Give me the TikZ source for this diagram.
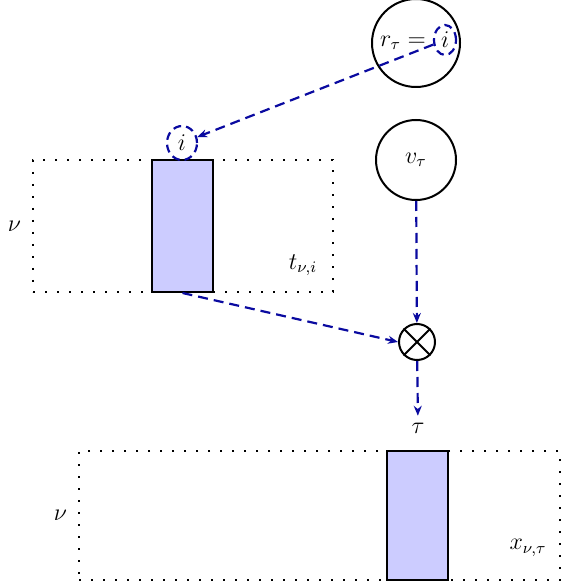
\documentclass[tikz,border=0pt]{standalone}
\usepackage{amsmath,amssymb}
\usetikzlibrary{arrows.meta,positioning,shapes.geometric}
\definecolor{LinkBlue}{HTML}{0A0AA0}
\definecolor{SliceFill}{HTML}{CCCCFF}

\begin{document}
\begin{tikzpicture}[
    x=0.5pt,y=-0.5pt,font=\large,
    frame/.style={draw,dash pattern=on 0.9pt off 5.1pt,line width=0.9pt,inner sep=0pt},
    slice/.style={draw,line width=1pt,fill=SliceFill,minimum width=30.5pt,inner sep=0pt},
    var/.style={circle,draw,line width=1pt,inner sep=0pt},
    tag/.style={ellipse,draw=LinkBlue,dash pattern=on 4pt off 2.5pt,line width=1.1pt,inner sep=0pt},
    mult/.style={circle,draw,line width=1pt,minimum size=18pt,inner sep=0pt},
    link/.style={-{Stealth[length=5pt,width=4pt]},dash pattern=on 5pt off 3pt,line width=1.1pt,LinkBlue}
  ]
    \useasboundingbox (0,0) rectangle (562,587);

    % top tensor t
    \node[frame,minimum width=150pt,minimum height=66pt] (tbox) at (183,226) {};
    \node[slice,minimum height=66pt] (tslice) at (182.5,226) {};
    \node[left=2pt of tbox] (tnu) {$\nu$};
    \node (tname) at (303,265) {$t_{\nu,i}$};
    \node[tag,minimum width=15pt,minimum height=17pt] (ti) at (182,143) {$i$};

    % index r and vector v
    \node[var,minimum size=44pt] (rt) at (416,43) {};
    \node (rlab) at (403,43) {$r_\tau =$};
    \node[tag,minimum width=11pt,minimum height=15pt] (ri) at (445,40) {$i$};
    \node[var,minimum size=40pt] (vt) at (416,160) {$v_\tau$};

    % product
    \node[mult] (prod) at (417,342) {};
    \draw[line width=1pt] (prod.45) -- (prod.225);
    \draw[line width=1pt] (prod.135) -- (prod.-45);

    % bottom tensor x
    \node[frame,minimum width=240.5pt,minimum height=64.5pt] (xbox) at (319.5,515.5) {};
    \node[slice,minimum height=64.5pt] (xslice) at (417,515.5) {};
    \node[left=2pt of xbox] (xnu) {$\nu$};
    \node (xname) at (528,548) {$x_{\nu,\tau}$};
    \node (tau) at (418,428) {$\tau$};

    % arrows
    \draw[link] (ri) -- (ti);
    \draw[link] (vt) -- (prod);
    \draw[link] (tslice.south) -- (prod.west);
    \draw[link] (prod) -- (tau);
\end{tikzpicture}
\end{document}
